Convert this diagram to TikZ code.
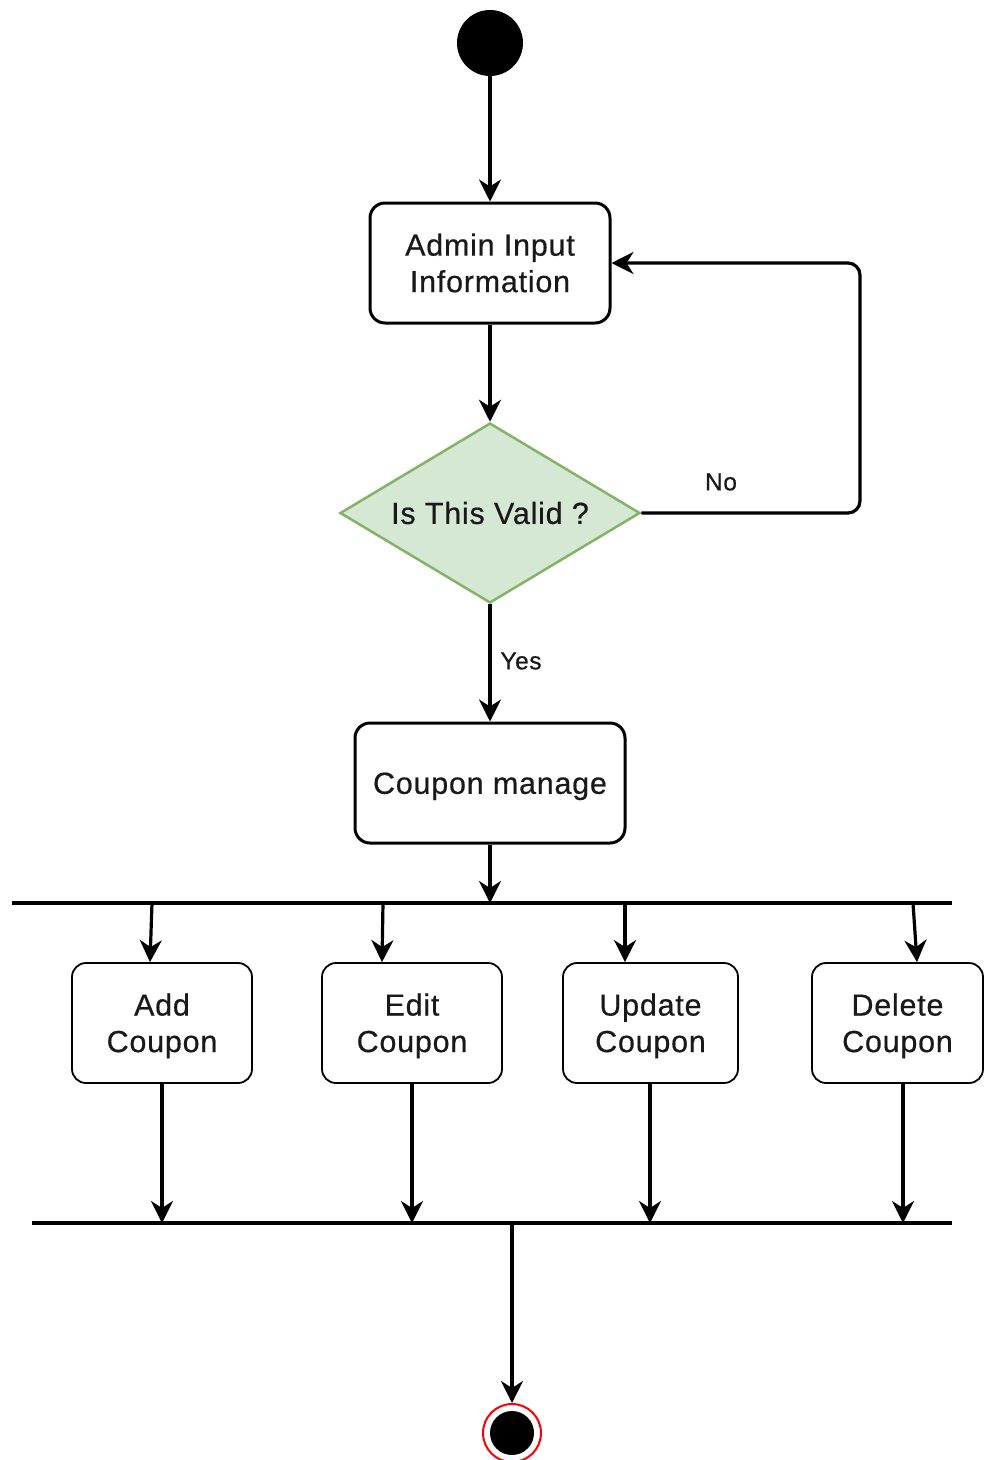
\documentclass[tikz,border=0pt]{standalone}
\usepackage{fontspec}
\setmainfont{Liberation Sans}[FakeBold=0.5, LetterSpace=2.5]
\usetikzlibrary{arrows.meta,shapes.geometric,calc}
\definecolor{dgreenfill}{HTML}{D5E8D4}
\definecolor{dgreenline}{HTML}{82B366}
\newcommand{\lowtext}[1]{\raisebox{-3.5pt}[\height][\depth]{\begin{tabular}{@{}c@{}}#1\end{tabular}}}
\begin{document}
\begin{tikzpicture}[x=1pt,y=-1pt,
  every node/.style={font=\fontsize{30.5}{36.5}\selectfont, align=center, text=black!90},
  arr/.style={line width=3.2pt, -{Stealth[length=22pt,width=22pt,inset=7pt]}},
  mainbox/.style={draw, line width=3pt, rounded corners=15pt, inner sep=0pt},
  subbox/.style={draw, line width=1.8pt, rounded corners=14pt, inner sep=0pt, minimum height=120pt},
  decision/.style={shape=diamond, draw=dgreenline, fill=dgreenfill, line width=2.5pt, aspect=1.6667, inner sep=0pt, minimum width=300pt, minimum height=180pt},
  barnode/.style={fill=black, inner sep=0pt, minimum height=4pt},
  startnode/.style={circle, fill=black, inner sep=0pt, minimum size=66pt},
  endring/.style={circle, draw=red, line width=2pt, fill=white, inner sep=0pt, minimum size=58pt},
  endcore/.style={circle, fill=black, inner sep=0pt, minimum size=44pt},
  lbl/.style={font=\fontsize{24.5}{28}\selectfont, inner sep=0pt}
]
\useasboundingbox (0,0) rectangle (984,1460);
% nodes
\node[startnode] (start) at (490,43) {};
\node[mainbox, minimum width=240pt, minimum height=120pt] (admin) at (490,263) {Admin Input\\Information};
\node[decision] (valid) at (490,513) {Is This Valid ?};
\node[mainbox, minimum width=270pt, minimum height=120pt] (manage) at (490,783) {\lowtext{Coupon manage}};
\node[barnode, minimum width=940pt] (fork) at (482,903) {};
\node[subbox, minimum width=180pt] (add) at (162,1023) {\lowtext{Add\\Coupon}};
\node[subbox, minimum width=180pt] (edit) at (412,1023) {\lowtext{Edit\\Coupon}};
\node[subbox, minimum width=175pt] (update) at (650.5,1023) {\lowtext{Update\\Coupon}};
\node[subbox, minimum width=171pt] (delete) at (897.5,1023) {\lowtext{Delete\\Coupon}};
\node[barnode, minimum width=920pt] (join) at (492,1223) {};
\node[endring] (endo) at (512,1433) {};
\node[endcore] (endi) at (512,1433) {};
\coordinate (loopA) at (860,513);
\coordinate (loopB) at (860,263);
% connectors
\draw[arr] (start) -- (admin);
\draw[arr] (admin) -- (valid);
\draw[arr, rounded corners=12pt] (valid.east) -- (loopA) -- (loopB) -- (admin.east);
\node[lbl] (nolbl) at (721,482) {No};
\draw[arr] (valid) -- (manage);
\node[lbl] (yeslbl) at (521,661) {Yes};
\draw[arr] (manage) -- (manage |- fork.center);
\draw[arr] ([xshift=-10pt]add.north |- fork.center) -- ([xshift=-12pt]add.north);
\draw[arr] ([xshift=-29pt]edit.north |- fork.center) -- ([xshift=-30pt]edit.north);
\draw[arr] ([xshift=-25.5pt]update.north |- fork.center) -- ([xshift=-25.5pt]update.north);
\draw[arr] ([xshift=15.5pt]delete.north |- fork.center) -- ([xshift=19.5pt]delete.north);
\draw[arr] (add.south) -- (add.south |- join.center);
\draw[arr] (edit.south) -- (edit.south |- join.center);
\draw[arr] ([xshift=-0.5pt]update.south) -- ([xshift=-0.5pt]update.south |- join.center);
\draw[arr] ([xshift=5.5pt]delete.south) -- ([xshift=5.5pt]delete.south |- join.center);
\draw[arr] (endo.north |- join.center) -- (endo.north);
\end{tikzpicture}
\end{document}
